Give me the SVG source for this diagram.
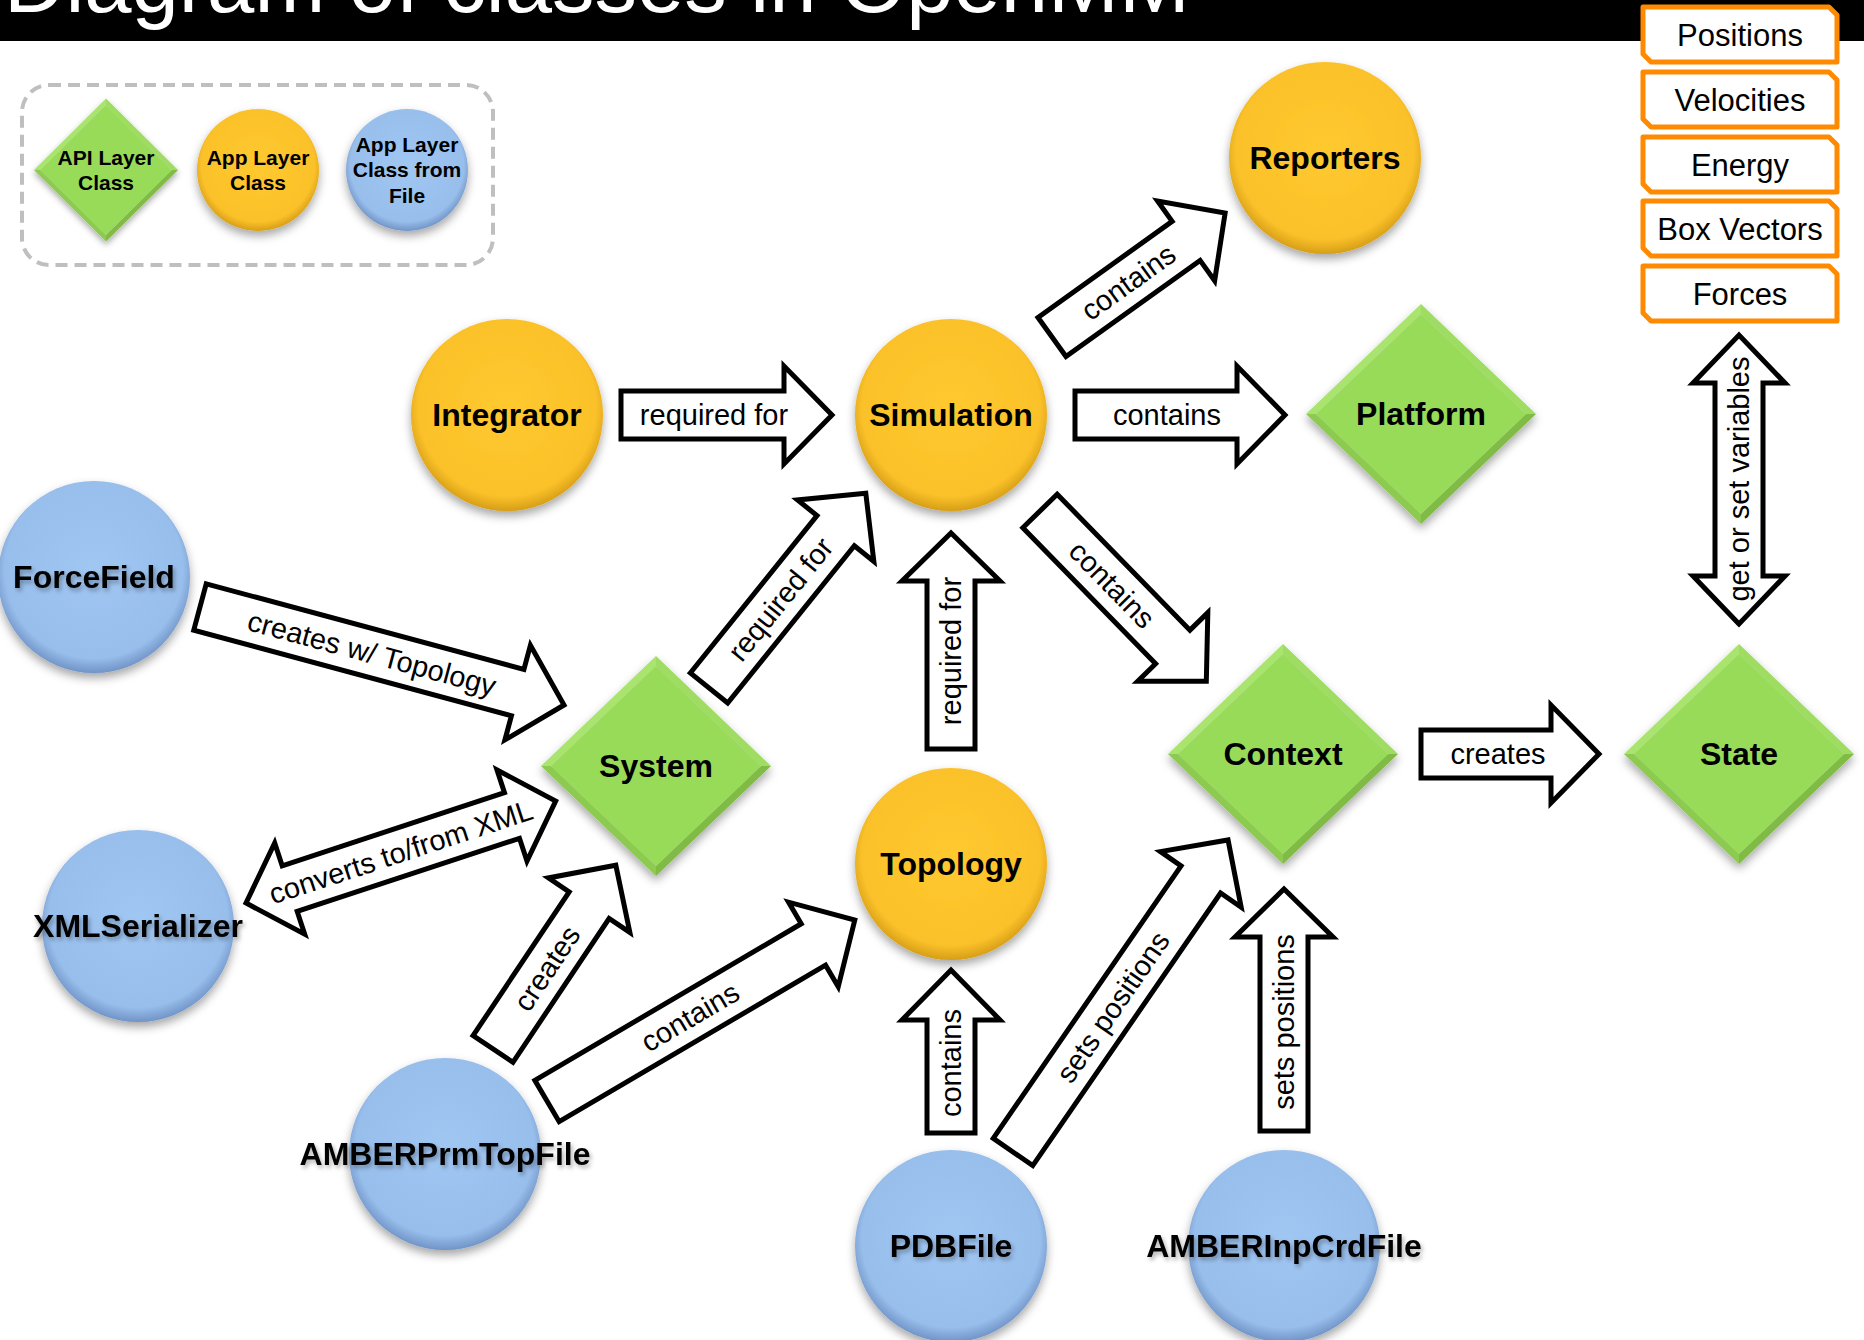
<svg xmlns="http://www.w3.org/2000/svg" xmlns:xlink="http://www.w3.org/1999/xlink" width="1864" height="1340" viewBox="0 0 1864 1340">
<style>
  .lbl{font-family:"Liberation Sans",Arial,sans-serif;font-weight:bold;font-size:32px;text-anchor:middle;fill:#000}
  .leg{font-family:"Liberation Sans",Arial,sans-serif;font-weight:bold;font-size:21px;text-anchor:middle;fill:#000}
  .alab{font-family:"Liberation Sans",Arial,sans-serif;font-size:29px;text-anchor:middle;fill:#000}
  .arrow{fill:#fff;stroke:#000;stroke-width:5;stroke-linejoin:miter}
  .orange{fill:url(#gOrange)}
  .blue{fill:url(#gBlue)}
  .box{fill:#fff;stroke:#FF8A00;stroke-width:5;stroke-linejoin:round}
  .boxt{font-family:"Liberation Sans",Arial,sans-serif;font-size:31px;text-anchor:middle;fill:#000}
  .title{font-family:"Liberation Sans",Arial,sans-serif;font-size:85px;fill:#fff}
</style>
<defs>
  <radialGradient id="gOrange" cx="50%" cy="46%" r="54%">
    <stop offset="0" stop-color="#FFC92F"/>
    <stop offset="0.86" stop-color="#FBC12A"/>
    <stop offset="1" stop-color="#D69E17"/>
  </radialGradient>
  <radialGradient id="gBlue" cx="50%" cy="46%" r="54%">
    <stop offset="0" stop-color="#A0C6F2"/>
    <stop offset="0.86" stop-color="#98BEEC"/>
    <stop offset="1" stop-color="#7094C6"/>
  </radialGradient>
  <filter id="shadow" x="-20%" y="-20%" width="140%" height="150%">
    <feDropShadow dx="0" dy="5" stdDeviation="5" flood-color="#000" flood-opacity="0.35"/>
  </filter>
  <filter id="tshadow" x="-10%" y="-30%" width="120%" height="160%">
    <feDropShadow dx="2" dy="3" stdDeviation="2" flood-color="#000" flood-opacity="0.3"/>
  </filter>
  <g id="dia">
    <polygon points="-115,0 0,-110 0,-100 -105,0" fill="#A9E56E"/>
    <polygon points="0,-110 115,0 105,0 0,-100" fill="#9FDC62"/>
    <polygon points="115,0 0,110 0,100 105,0" fill="#80BC45"/>
    <polygon points="0,110 -115,0 -105,0 0,100" fill="#8CCB50"/>
    <polygon points="0,-100 105,0 0,100 -105,0" fill="#98DB58"/>
  </g>
</defs>

<!-- title bar -->
<rect x="0" y="0" width="1864" height="41" fill="#000"/>
<text class="title" x="4" y="12">Diagram of classes in OpenMM</text>

<!-- legend -->
<g id="legend">
  <rect x="22" y="85" width="471" height="180" rx="27" ry="27" fill="none" stroke="#BFBFBF" stroke-width="4" stroke-dasharray="12,7"/>
  <g id="legend-api">
    <use xlink:href="#dia" href="#dia" transform="translate(106,170) scale(0.626,0.65)" filter="url(#shadow)"/>
    <text class="leg" x="106" y="165">API Layer</text>
    <text class="leg" x="106" y="190">Class</text>
  </g>
  <g id="legend-app">
    <circle class="orange" cx="258" cy="170" r="61" filter="url(#shadow)"/>
    <text class="leg" x="258" y="165">App Layer</text>
    <text class="leg" x="258" y="190">Class</text>
  </g>
  <g id="legend-file">
    <circle class="blue" cx="407" cy="170" r="61" filter="url(#shadow)"/>
    <text class="leg" x="407" y="152">App Layer</text>
    <text class="leg" x="407" y="177">Class from</text>
    <text class="leg" x="407" y="203">File</text>
  </g>
</g>

<!-- state variable boxes -->
<g id="vars">
  <g id="var-positions">
    <path class="box" d="M1643,7 H1829 L1837,15 V62 H1651 L1643,54 Z"/>
    <text class="boxt" x="1740" y="46">Positions</text>
  </g>
  <g id="var-velocities">
    <path class="box" d="M1643,72 H1829 L1837,80 V127 H1651 L1643,119 Z"/>
    <text class="boxt" x="1740" y="111">Velocities</text>
  </g>
  <g id="var-energy">
    <path class="box" d="M1643,137 H1829 L1837,145 V192 H1651 L1643,184 Z"/>
    <text class="boxt" x="1740" y="176">Energy</text>
  </g>
  <g id="var-box">
    <path class="box" d="M1643,201 H1829 L1837,209 V256 H1651 L1643,248 Z"/>
    <text class="boxt" x="1740" y="240">Box Vectors</text>
  </g>
  <g id="var-forces">
    <path class="box" d="M1643,266 H1829 L1837,274 V321 H1651 L1643,313 Z"/>
    <text class="boxt" x="1740" y="305">Forces</text>
  </g>
</g>

<!-- connectors -->
<g id="connectors">
  <g transform="translate(621,415)">
    <path class="arrow" d="M0,-24 H163 V-49 L211,0 L163,49 V24 H0 Z"/>
    <text class="alab" x="93" y="10">required for</text>
  </g>
  <g transform="translate(1075,415)">
    <path class="arrow" d="M0,-24 H162 V-49 L210,0 L162,49 V24 H0 Z"/>
    <text class="alab" x="92" y="10">contains</text>
  </g>
  <g transform="translate(1052,337) rotate(-35.63)">
    <path class="arrow" d="M0,-24 H165 V-49 L213,0 L165,49 V24 H0 Z"/>
    <text class="alab" x="94" y="10">contains</text>
  </g>
  <g transform="translate(1040,511) rotate(45.67)">
    <path class="arrow" d="M0,-24 H190 V-49 L238,0 L190,49 V24 H0 Z"/>
    <text class="alab" x="103" y="10">contains</text>
  </g>
  <g transform="translate(709,688) rotate(-51.16)">
    <path class="arrow" d="M0,-24 H202 V-49 L250,0 L202,49 V24 H0 Z"/>
    <text class="alab" x="114" y="10">required for</text>
  </g>
  <g transform="translate(951,749) rotate(-90)">
    <path class="arrow" d="M0,-24 H168 V-49 L216,0 L168,49 V24 H0 Z"/>
    <text class="alab" x="98" y="10">required for</text>
  </g>
  <g transform="translate(200,607) rotate(15.07)">
    <path class="arrow" d="M0,-24 H329 V-49 L377,0 L329,49 V24 H0 Z"/>
    <text class="alab" x="178" y="10">creates w/ Topology</text>
  </g>
  <g transform="translate(246,903) rotate(-18.21)">
    <path class="arrow" d="M0,0 L46,-48 V-24 H280 V-48 L326,0 L280,48 V24 H46 V48 Z"/>
    <text class="alab" x="163" y="10">converts to/from XML</text>
  </g>
  <g transform="translate(493,1049) rotate(-56.24)">
    <path class="arrow" d="M0,-24 H173 V-49 L221,0 L173,49 V24 H0 Z"/>
    <text class="alab" x="97" y="10">creates</text>
  </g>
  <g transform="translate(547,1101) rotate(-30.44)">
    <path class="arrow" d="M0,-24 H309 V-49 L357,0 L309,49 V24 H0 Z"/>
    <text class="alab" x="166" y="10">contains</text>
  </g>
  <g transform="translate(951,1133) rotate(-90)">
    <path class="arrow" d="M0,-24 H113 V-49 L163,0 L113,49 V24 H0 Z"/>
    <text class="alab" x="70" y="10">contains</text>
  </g>
  <g transform="translate(1013,1152) rotate(-55.43)">
    <path class="arrow" d="M0,-24 H331 V-49 L379,0 L331,49 V24 H0 Z"/>
    <text class="alab" x="176" y="10">sets positions</text>
  </g>
  <g transform="translate(1284,1131) rotate(-90)">
    <path class="arrow" d="M0,-24 H194 V-49 L242,0 L194,49 V24 H0 Z"/>
    <text class="alab" x="109" y="10">sets positions</text>
  </g>
  <g transform="translate(1421,754)">
    <path class="arrow" d="M0,-24 H130 V-49 L178,0 L130,49 V24 H0 Z"/>
    <text class="alab" x="77" y="10">creates</text>
  </g>
  <g transform="translate(1739,624) rotate(-90)">
    <path class="arrow" d="M0,0 L48,-46 V-24 H241 V-46 L289,0 L241,46 V24 H48 V46 Z"/>
    <text class="alab" x="145" y="10">get or set variables</text>
  </g>
</g>

<!-- nodes -->
<g id="node-reporters">
  <circle class="orange" cx="1325" cy="158" r="96" filter="url(#shadow)"/>
  <text class="lbl" x="1325" y="169">Reporters</text>
</g>
<g id="node-integrator">
  <circle class="orange" cx="507" cy="415" r="96" filter="url(#shadow)"/>
  <text class="lbl" x="507" y="426">Integrator</text>
</g>
<g id="node-simulation">
  <circle class="orange" cx="951" cy="415" r="96" filter="url(#shadow)"/>
  <text class="lbl" x="951" y="426">Simulation</text>
</g>
<g id="node-platform">
  <use xlink:href="#dia" href="#dia" x="1421" y="414" filter="url(#shadow)"/>
  <text class="lbl" x="1421" y="425">Platform</text>
</g>
<g id="node-forcefield">
  <circle class="blue" cx="94" cy="577" r="96" filter="url(#shadow)"/>
  <text class="lbl" x="94" y="588" filter="url(#tshadow)">ForceField</text>
</g>
<g id="node-system">
  <use xlink:href="#dia" href="#dia" x="656" y="766" filter="url(#shadow)"/>
  <text class="lbl" x="656" y="777">System</text>
</g>
<g id="node-context">
  <use xlink:href="#dia" href="#dia" x="1283" y="754" filter="url(#shadow)"/>
  <text class="lbl" x="1283" y="765">Context</text>
</g>
<g id="node-state">
  <use xlink:href="#dia" href="#dia" x="1739" y="754" filter="url(#shadow)"/>
  <text class="lbl" x="1739" y="765">State</text>
</g>
<g id="node-topology">
  <circle class="orange" cx="951" cy="864" r="96" filter="url(#shadow)"/>
  <text class="lbl" x="951" y="875">Topology</text>
</g>
<g id="node-xmlserializer">
  <circle class="blue" cx="138" cy="926" r="96" filter="url(#shadow)"/>
  <text class="lbl" x="138" y="937" filter="url(#tshadow)">XMLSerializer</text>
</g>
<g id="node-amberprmtopfile">
  <circle class="blue" cx="445" cy="1154" r="96" filter="url(#shadow)"/>
  <text class="lbl" x="445" y="1165" filter="url(#tshadow)">AMBERPrmTopFile</text>
</g>
<g id="node-pdbfile">
  <circle class="blue" cx="951" cy="1246" r="96" filter="url(#shadow)"/>
  <text class="lbl" x="951" y="1257" filter="url(#tshadow)">PDBFile</text>
</g>
<g id="node-amberinpcrdfile">
  <circle class="blue" cx="1284" cy="1246" r="96" filter="url(#shadow)"/>
  <text class="lbl" x="1284" y="1257" filter="url(#tshadow)">AMBERInpCrdFile</text>
</g>
</svg>
